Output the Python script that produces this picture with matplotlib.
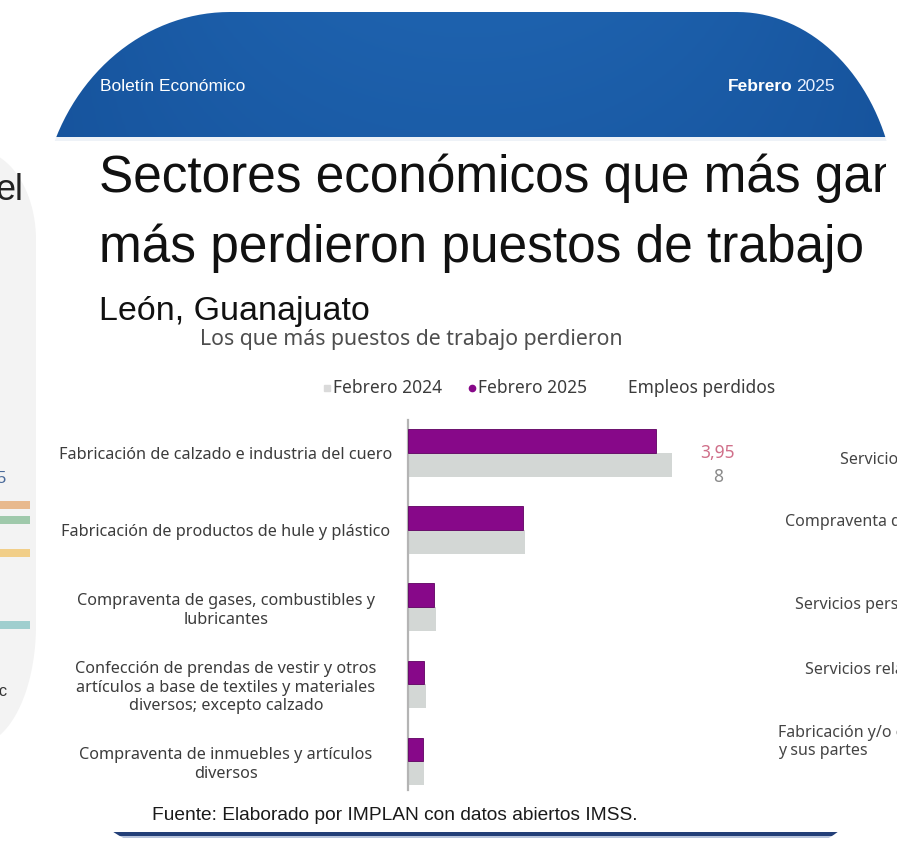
import matplotlib
matplotlib.use("Agg")
import matplotlib.pyplot as plt
import numpy as np
from matplotlib.path import Path
from matplotlib.patches import PathPatch
from matplotlib.transforms import Bbox, TransformedBbox

# ── Data ──────────────────────────────────────────────────────────────────────
sectores = [
    "Fabricación de calzado e industria del cuero",
    "Fabricación de productos de hule y plástico",
    "Compraventa de gases, combustibles y\nlubricantes",
    "Confección de prendas de vestir y otros\nartículos a base de textiles y materiales\ndiversos; excepto calzado",
    "Compraventa de inmuebles y artículos\ndiversos",
]
feb_2024 = [65300, 28900, 6900, 4450, 3950]
feb_2025 = [61342, 28400, 6400, 3950, 3700]

otros_sectores = [
    "Servicios de",
    "Compraventa de",
    "Servicios personales",
    "Servicios relacionados",
    "Fabricación y/o ensamble\ny sus partes",
]

PURPLE = "#870889"
GREY24 = "#d3d7d5"
TXT    = "#3c3c3c"
W, H   = 922, 857

fig = plt.figure(figsize=(W / 100, H / 100), dpi=100)
fig.patch.set_facecolor("white")

bg = fig.add_axes([0, 0, 1, 1])
bg.set_xlim(0, W)
bg.set_ylim(H, 0)
bg.axis("off")


def pixel_box(x0, y0, x1, y1):
    """Clip box given in picture pixels (origin top-left)."""
    return TransformedBbox(Bbox.from_extents(x0 / W, 1 - y1 / H, x1 / W, 1 - y0 / H),
                           fig.transFigure)


def clip_text(t, box):
    t.set_clip_on(True)
    t.set_clip_box(box)


# ── Card shape (rounded rectangle, elliptical corners) ────────────────────────
def rounded_path(x0, y0, x1, y1, tl, tr, br, bl, n=40):
    pts = []
    t = np.linspace(0, np.pi / 2, n)
    rx, ry = tl
    pts += list(zip(x0 + rx - rx * np.cos(t), y0 + ry - ry * np.sin(t)))
    rx, ry = tr
    pts += list(zip(x1 - rx + rx * np.sin(t), y0 + ry - ry * np.cos(t)))
    rx, ry = br
    pts += list(zip(x1 - rx + rx * np.cos(t), y1 - ry + ry * np.sin(t)))
    rx, ry = bl
    pts += list(zip(x0 + rx - rx * np.sin(t), y1 - ry + ry * np.cos(t)))
    pts.append(pts[0])
    return Path(pts, closed=True)


# left neighbouring card (partly visible)
left_path = rounded_path(-200, 150, 36, 745, (60, 60), (60, 90), (60, 120), (60, 60))
left_card = PathPatch(left_path, facecolor="#f3f3f3", edgecolor="none", transform=bg.transData)
bg.add_patch(left_card)
for txt, yy, col, fs in [("el", 190, "#222222", 26), ("5", 478, "#4a6a9a", 12),
                         ("ic", 692, "#333333", 12)]:
    t_ = bg.text(-4, yy, txt, fontsize=fs, color=col, va="center", ha="left",
                 family="Liberation Sans")
    clip_text(t_, pixel_box(0, 150, 33, 745))
for yy, col in [(505, "#e08a3a"), (520, "#5aa870"), (553, "#f0b030"), (625, "#5ab0b0")]:
    r_ = bg.fill_between([0, 30], yy - 4, yy + 4, color=col, alpha=0.55, lw=0)
    r_.set_clip_path(left_card)

card_path = rounded_path(40, 12, 897, 850, (190, 210), (160, 200), (110, 160), (130, 180))
card = PathPatch(card_path, facecolor="white", edgecolor="none", transform=bg.transData)
bg.add_patch(card)

# blue header with soft gradient
gx = np.linspace(-1, 1, 200)
gy = np.linspace(0, 1, 60)
GX, GY = np.meshgrid(gx, gy)
shade = 0.55 + 0.45 * (1 - GX ** 2) * (1 - 0.35 * GY)
c_dark = np.array([0x0d, 0x42, 0x88]) / 255
c_light = np.array([0x1e, 0x62, 0xae]) / 255
img = c_dark[None, None, :] + (c_light - c_dark)[None, None, :] * shade[..., None]
im = bg.imshow(np.clip(img, 0, 1), extent=[40, 897, 137, 12], aspect="auto", zorder=2)
im.set_clip_path(card)
strip = bg.fill_between([40, 897], 137, 141, color="#eef2f7", lw=0, zorder=2)
strip.set_clip_path(card)

bg.text(100, 86, "Boletín Económico", color="white", fontsize=12.5, va="center",
        family="Liberation Sans", zorder=3)
bg.text(835, 86, "2025", color="#e8f0ff", fontsize=12.5, va="center", ha="right",
        family="Liberation Sans", zorder=3)
bg.text(792, 86, "Febrero", color="white", fontsize=12.5, va="center", ha="right",
        family="Liberation Sans", fontweight="bold", zorder=3)

# titles
t1 = bg.text(99, 192, "Sectores económicos que más ganaron y", fontsize=37,
             color="#111111", family="Liberation Sans", va="baseline", zorder=3)
clip_text(t1, pixel_box(0, 140, 886, 260))
bg.text(99, 262, "más perdieron puestos de trabajo", fontsize=37,
        color="#111111", family="Liberation Sans", va="baseline", zorder=3)
bg.text(99, 320, "León, Guanajuato", fontsize=24.5, color="#111111",
        family="Liberation Sans", va="baseline", zorder=3)
bg.text(200, 340, "Los que más puestos de trabajo perdieron", fontsize=15.3,
        color="#4e4e4e", family="Noto Sans", va="center", zorder=3)

# legend
bg.plot([327], [388], marker="s", ms=4, color="#dadada", lw=0, zorder=3)
bg.text(333, 388, "Febrero 2024", fontsize=12.5, color=TXT, family="Noto Sans", va="center")
bg.plot([472], [388], marker="o", ms=4.5, color=PURPLE, lw=0, zorder=3)
bg.text(478, 388, "Febrero 2025", fontsize=12.5, color=TXT, family="Noto Sans", va="center")
bg.text(628, 388, "Empleos perdidos", fontsize=12.5, color=TXT, family="Noto Sans", va="center")

# right-side (cut off) chart labels
for txt, xx, yy in zip(otros_sectores, [840, 785, 795, 805, 778], [460, 522, 605, 670, 742]):
    tt = bg.text(xx, yy, txt, fontsize=11.5, color="#444444", family="Noto Sans",
                 va="center", ha="left", linespacing=1.1, zorder=3)
    clip_text(tt, pixel_box(700, 400, 897, 800))

# footer
bg.text(152, 815, "Fuente: Elaborado por IMPLAN con datos abiertos IMSS.", fontsize=13.8,
        color="#1a1a1a", family="Liberation Sans", va="center", zorder=3)
ln1 = bg.fill_between([40, 897], 832, 835.5, color="#233f78", lw=0, zorder=3)
ln1.set_clip_path(card)
ln2 = bg.fill_between([40, 897], 836, 838, color="#b8c4dc", lw=0, zorder=3)
ln2.set_clip_path(card)


# ── Bar chart ────────────────────────────────────────────────────────────────
ax = fig.add_axes([408 / W, 1 - 790 / H, 300 / W, 370 / H])
ax.patch.set_alpha(0)
y = np.arange(len(sectores))
bh = 0.31
ax.barh(y - bh / 2, feb_2025, height=bh, color=PURPLE, edgecolor="#5e0060", lw=0.6, zorder=3)
ax.barh(y + bh / 2, feb_2024, height=bh, color=GREY24, edgecolor="none", zorder=2)

ax.set_xlim(0, 74200)
ax.set_ylim(4.37, -0.43)
ax.set_xticks([])
ax.set_yticks(y)
ax.set_yticklabels(sectores, fontsize=11.7, color=TXT, family="Noto Sans",
                   linespacing=1.2)
for lab in ax.get_yticklabels():
    lab.set_horizontalalignment("center")
    lab.set_multialignment("center")
ax.tick_params(axis="y", length=0, pad=131)
for s in ("top", "right", "bottom"):
    ax.spines[s].set_visible(False)
ax.spines["left"].set_color("#b4b4b4")
ax.spines["left"].set_linewidth(1.6)

# jobs lost label (wrapped as in the source)
perdidos = feb_2024[0] - feb_2025[0]
lbl = f"{perdidos:,}"
ax.annotate(lbl[:-1], xy=(feb_2024[0], 0), xytext=(33, 0), textcoords="offset points",
            ha="center", va="center", fontsize=12.5, color="#d0708a", family="Noto Sans",
            annotation_clip=False)
ax.annotate(lbl[-1], xy=(feb_2024[0], 0), xytext=(33, -17), textcoords="offset points",
            ha="center", va="center", fontsize=12.5, color="#8a8a8a", family="Noto Sans",
            annotation_clip=False)

fig.savefig("out.png", dpi=100)
